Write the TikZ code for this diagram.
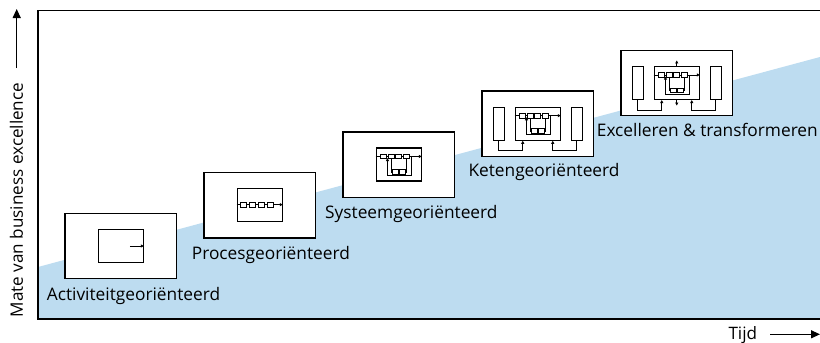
\documentclass[tikz,border=0pt]{standalone}
\usepackage{fontspec}
\setmainfont{Open Sans}
\usetikzlibrary{arrows.meta,calc}
\definecolor{skyfill}{RGB}{189,220,240}

% a row of four process cells on the line at height #2 inside flow box #1,
% first cell centre at #3, cell pitch #4
\newcommand\cellrow[4]{%
  \begin{scope}[shift={(#1.north west)}]
    \foreach \k in {1,...,4}
      \node[cell] (#1c\k) at ({#3+(\k-1)*#4},#2) {};
  \end{scope}
  \draw[wire] (#1c1.west -| #1.west) -- (#1c1.west);
  \draw[wire] (#1c1.east) -- (#1c2.west);
  \draw[wire] (#1c2.east) -- (#1c3.west);
  \draw[wire] (#1c3.east) -- (#1c4.west);
  \draw[wire,flowtip] (#1c4.east) -- (#1c4.east -| #1.east);
}

% the feedback loops under a cell row in flow box #1
\newcommand\feedback[1]{%
  \begin{scope}[shift={(#1.north west)}]
    \node[cell] (#1d1) at (19.5,24.5) {};
    \node[cell] (#1d2) at (26.5,24.5) {};
    \coordinate (#1fa) at (35.5,9);
    \coordinate (#1fb) at (11.75,28);
    \coordinate (#1fc) at (11.75,10.6);
  \end{scope}
  \draw[wire] (#1c2.south) |- (#1d1.west);
  \draw[wire] (#1d1.east) -- (#1d2.west);
  \draw[wire] (#1d2.east) -| (#1c4.south);
  \draw[wire,flowtip] (#1fa) |- (#1fb) -- (#1fc);
}

% the two partner bars beside stage box #1 and their links into flow box #2
\newcommand\partners[2]{%
  \node[sidebar] (#1lb) at ($(#1)+(-39,0)$) {};
  \node[sidebar] (#1rb) at ($(#1)+(39,0)$) {};
  \draw[wire,flowtip] (#1lb.south) |- ([xshift=-15pt,yshift=-10pt]#2.south) -- ([xshift=-15pt]#2.south);
  \draw[wire,flowtip] (#1rb.south) |- ([xshift=15pt,yshift=-10pt]#2.south) -- ([xshift=15pt]#2.south);
}

\begin{document}
\begin{tikzpicture}[x=1pt,y=-1pt,
  frame/.style={line width=1.6pt},
  stagebox/.style={draw, line width=1.3pt, fill=white, minimum width=111.5pt, minimum height=65.3pt, inner sep=0pt},
  flowbox/.style={draw, line width=1.1pt, minimum width=45pt, minimum height=33pt, inner sep=0pt},
  sidebar/.style={draw, line width=1pt, minimum width=11pt, minimum height=33pt, inner sep=0pt},
  cell/.style={draw, line width=0.75pt, fill=white, minimum width=5.8pt, minimum height=4.8pt, inner sep=0pt},
  wire/.style={line width=0.85pt},
  flowtip/.style={-{Triangle[length=3pt,width=3pt]}},
  stagelabel/.style={anchor=base west, inner sep=0pt, font=\fontsize{17.3}{20}\selectfont},
  axislabel/.style={inner sep=0pt, font=\fontsize{17.1}{20}\selectfont},
  axisarrow/.style={line width=1.2pt, -{Triangle[length=9pt,width=8pt]}}
]
\useasboundingbox (0,0) rectangle (820,343);

% rising band of excellence
\fill[skyfill] (38,267) -- (820,57) -- (820,319) -- (38,319) -- cycle;
% chart frame
\draw[frame] (820,10.3) -- (38,10.3) -- (38,319) -- (820,319);

% axes
\node[axislabel, rotate=90, anchor=base] (ylab) at (23,200) {Mate van business excellence};
\coordinate (yfoot) at (16.7,68);
\coordinate (ytop) at (16.7,9);
\draw[axisarrow] (yfoot) -- (ytop);

\node[axislabel, anchor=base west] (tlab) at (728.3,339.5) {Tijd};
\coordinate (tstart) at (770,334.3);
\coordinate (tend) at (820,334.3);
\draw[axisarrow] (tstart) -- (tend);

% stage boxes
\node[stagebox] (st1) at (120.75,246) {};
\node[stagebox] (st2) at (259.75,205.2) {};
\node[stagebox] (st3) at (398.75,164.5) {};
\node[stagebox] (st4) at (537.75,123.7) {};
\node[stagebox] (st5) at (676.75,83) {};

\node[flowbox] (fb1) at (st1) {};
\node[flowbox] (fb2) at (st2) {};
\node[flowbox] (fb3) at (st3) {};
\node[flowbox] (fb4) at (st4) {};
\node[flowbox] (fb5) at (st5) {};

% 1: single activity
\coordinate (fb1a) at ($(fb1.east)+(-14,0)$);
\draw[wire,flowtip] (fb1a) -- (fb1.east);

% 2: process chain
\cellrow{fb2}{16.5}{7}{9}

% 3: system with feedback
\cellrow{fb3}{9}{8}{7.5}
\feedback{fb3}

% 4: chain partners
\cellrow{fb4}{9}{8}{7.5}
\feedback{fb4}
\partners{st4}{fb4}

% 5: excelling and transforming
\cellrow{fb5}{9}{8}{7.5}
\feedback{fb5}
\partners{st5}{fb5}
\draw[wire,flowtip] (fb5.north) -- ++(0,-5.5);
\draw[wire,flowtip] (fb5.south) -- ++(0,5.5);

% stage names
\node[stagelabel] (lab1) at (46.7,300) {Activiteitgeoriënteerd};
\node[stagelabel] (lab2) at (191.7,259) {Procesgeoriënteerd};
\node[stagelabel] (lab3) at (325,218.3) {Systeemgeoriënteerd};
\node[stagelabel] (lab4) at (468.3,176.7) {Ketengeoriënteerd};
\node[stagelabel] (lab5) at (596.7,136) {Excelleren \& transformeren};
\end{tikzpicture}
\end{document}
